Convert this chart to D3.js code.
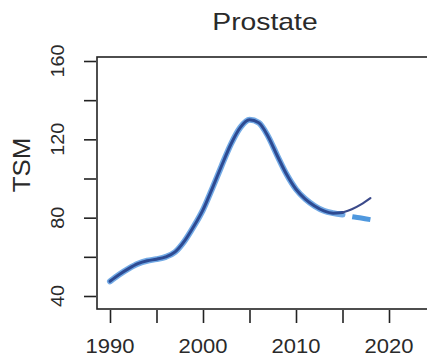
<!DOCTYPE html>
<html>
<head>
<meta charset="utf-8">
<script src="https://cdn.jsdelivr.net/npm/d3@7"></script>
<style>
  body { margin: 0; background: #fff; }
  svg { display: block; font-family: "Liberation Sans", Arial, sans-serif; }
</style>
</head>
<body>
<div id="chart"></div>
<script>
// data
const years = [1990, 1991, 1992, 1993, 1994, 1995, 1996, 1997, 1998, 1999,
               2000, 2001, 2002, 2003, 2004, 2005, 2006, 2007, 2008, 2009,
               2010, 2011, 2012, 2013, 2014, 2015, 2016, 2017, 2018];
const fitted = [47.5, 51, 54, 56.5, 58, 58.8, 60, 62.5, 68, 75.5,
                84, 95, 106.5, 117.5, 126, 130, 128.5, 121.5, 111.5, 102,
                94.5, 89.5, 86, 83.5, 82.3, 82.6, 84.3, 86.8, 90];
const observed = [47.5, 51, 54, 56.5, 58, 58.8, 60, 62.5, 68, 75.5,
                  84, 95, 106.5, 117.5, 126, 130, 128.5, 121.5, 111.5, 102,
                  94.5, 89.5, 86, 83.5, 82.3, 81.6, 80.5, 79.8, 79];
const projStart = 2015;
const xTicks = [1990, 1995, 2000, 2005, 2010, 2015, 2020];
const xLabels = [1990, 2000, 2010, 2020];
const yTicks = [40, 60, 80, 100, 120, 140, 160];
const yLabels = [40, 80, 120, 160];

const W = 427, H = 358;
const svg = d3.select("#chart").append("svg").attr("width", W).attr("height", H);

const x = d3.scaleLinear().domain([1990, 2020]).range([110, 389]);
const y = d3.scaleLinear().domain([40, 160]).range([296, 61]);

const box = { left: 97, top: 57, bottom: 309, right: 440 };
const ink = "#222";
const txt = "#2a2a2a";

// plot frame
svg.append("rect")
   .attr("x", box.left).attr("y", box.top)
   .attr("width", box.right - box.left).attr("height", box.bottom - box.top)
   .style("fill", "none").style("stroke", ink).style("stroke-width", 1.6);

// x axis
const xAxis = d3.axisBottom(x).tickValues(xTicks).tickSize(13).tickFormat("");
const gx = svg.append("g").attr("transform", "translate(0," + (box.bottom + 1) + ")").call(xAxis);
gx.select(".domain").remove();
gx.selectAll("line").style("stroke", ink).style("stroke-width", 1.6);
svg.selectAll(".xlab").data(xLabels).enter().append("text")
   .attr("class", "xlab")
   .attr("transform", d => "translate(" + x(d) + ",353) scale(1.1,1)")
   .attr("text-anchor", "middle")
   .style("font-size", "20px").style("fill", txt)
   .text(d => d);

// y axis
const yAxis = d3.axisLeft(y).tickValues(yTicks).tickSize(12).tickFormat("");
const gy = svg.append("g").attr("transform", "translate(" + (box.left - 1) + ",0)").call(yAxis);
gy.select(".domain").remove();
gy.selectAll("line").style("stroke", ink).style("stroke-width", 1.6);
svg.selectAll(".ylab").data(yLabels).enter().append("text")
   .attr("class", "ylab")
   .attr("transform", d => "translate(64," + y(d) + ") rotate(-90) scale(1.1,1)")
   .attr("text-anchor", "middle")
   .style("font-size", "18px").style("fill", txt)
   .text(d => d);

// axis title and chart title
svg.append("text")
   .attr("transform", "translate(30,165) rotate(-90) scale(1.08,1)")
   .attr("text-anchor", "middle")
   .style("font-size", "24px").style("fill", txt)
   .text("TSM");
svg.append("text")
   .attr("transform", "translate(265,30) scale(1.18,1)")
   .attr("text-anchor", "middle")
   .style("font-size", "24px").style("fill", txt)
   .text("Prostate");

const line = d3.line().x(d => x(d[0])).y(d => y(d[1])).curve(d3.curveMonotoneX);
const obs = years.map((yr, i) => [yr, observed[i]]);
const fit = years.map((yr, i) => [yr, fitted[i]]);

// light blue observed band (solid, then dashed projection)
svg.append("path").datum(obs.filter(d => d[0] <= projStart))
   .attr("d", line)
   .style("fill", "none").style("stroke", "#5a9be0").style("stroke-width", 6)
   .style("stroke-linecap", "round").style("opacity", 0.85);
svg.append("path").datum(obs.filter(d => d[0] >= projStart))
   .attr("d", line)
   .style("fill", "none").style("stroke", "#4f98de").style("stroke-width", 5)
   .style("stroke-dasharray", "0,10,30,10");

// dark fitted line
svg.append("path").datum(fit.filter(d => d[0] <= projStart))
   .attr("d", line)
   .style("fill", "none").style("stroke", "#2d4a92").style("stroke-width", 3)
   .style("stroke-linecap", "round");
svg.append("path").datum(fit.filter(d => d[0] >= projStart))
   .attr("d", line)
   .style("fill", "none").style("stroke", "#3b4a8a").style("stroke-width", 2.2)
   .style("stroke-linecap", "round");
</script>
</body>
</html>
